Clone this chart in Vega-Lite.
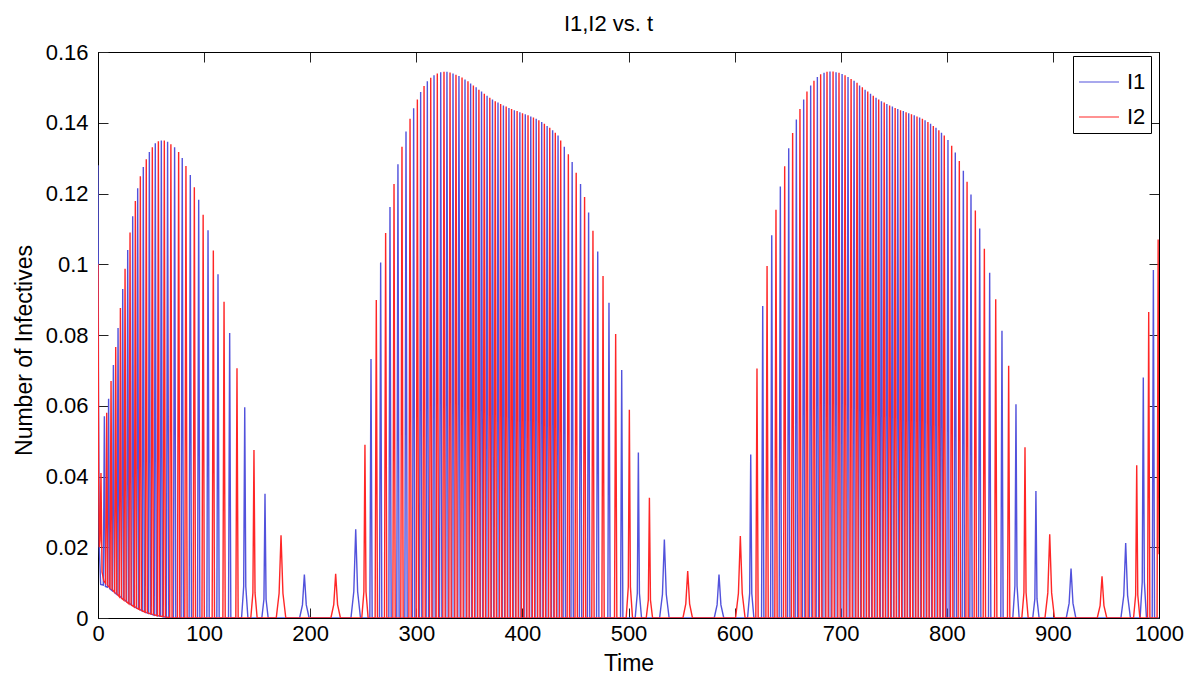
{
"$schema": "https://vega.github.io/schema/vega-lite/v6.json",
"width": 1061, "height": 566,
"autosize": "none",
"padding": {"left": 98, "top": 52, "right": 42, "bottom": 62},
"background": "white",
"config": {
  "font": "Liberation Sans",
  "view": {"stroke": "black", "strokeWidth": 1},
  "axis": {"grid": false, "domainColor": "black", "tickColor": "#222222", "labelColor": "black", "titleColor": "black", "labelFontSize": 22, "titleFontSize": 23, "titleFontWeight": "normal", "tickSize": -10, "labelFlush": false, "labelOverlap": false}
},
"datasets": {
"i1": [
{"t":0,"v":0.128},{"t":0.5,"v":0.06},{"t":1.2,"v":0.02},{"t":2.5,"v":0.0095},{"t":5.0,"v":0.0093},{"t":6.0,"v":0.057},{"t":7.0,"v":0.0089},{"t":9.0,"v":0.0087},{"t":10.0,"v":0.062},{"t":11.0,"v":0.0083},{"t":13.5,"v":0.0077},{"t":14.5,"v":0.0715},{"t":15.5,"v":0.0073},{"t":17.9,"v":0.0066},{"t":18.9,"v":0.082},{"t":19.9,"v":0.0064},{"t":22.3,"v":0.0056},{"t":23.3,"v":0.093},{"t":24.3,"v":0.0053},{"t":27.0,"v":0.0046},{"t":28.0,"v":0.104},{"t":29.0,"v":0.0043},{"t":31.7,"v":0.0036},{"t":32.7,"v":0.1136},{"t":33.7,"v":0.0034},{"t":36.4,"v":0.0028},{"t":37.4,"v":0.1215},{"t":38.4,"v":0.0026},{"t":41.7,"v":0.002},{"t":42.7,"v":0.1275},{"t":43.7,"v":0.0018},{"t":47.4,"v":0.0013},{"t":48.4,"v":0.1317},{"t":49.4,"v":0.0012},{"t":53.0,"v":0.0008},{"t":54.0,"v":0.1342},{"t":55.0,"v":0.0007},{"t":58.7,"v":0.0005},{"t":59.7,"v":0.135},{"t":60.7,"v":0.0004},{"t":64.5,"v":0.0002},{"t":65.6,"v":0.1346},{"t":66.7,"v":0.0001},
{"t":71.1,"v":0},{"t":72.2,"v":0.1331},{"t":73.3,"v":0},
{"t":78.3,"v":0},{"t":79.4,"v":0.13},{"t":80.5,"v":0},
{"t":85.9,"v":0},{"t":87.0,"v":0.1252},{"t":88.1,"v":0},
{"t":93.8,"v":0},{"t":94.9,"v":0.1182},{"t":96.0,"v":0},
{"t":102.6,"v":0},{"t":103.7,"v":0.1096},{"t":104.8,"v":0},
{"t":112.0,"v":0},{"t":113.1,"v":0.0972},{"t":114.2,"v":0},
{"t":123.0,"v":0},{"t":124.1,"v":0.0806},{"t":125.2,"v":0},
{"t":135.3,"v":0},{"t":137.3,"v":0.0089},{"t":138.3,"v":0.0596},{"t":139.3,"v":0.0089},{"t":141.3,"v":0},
{"t":154.4,"v":0},{"t":156.4,"v":0.0053},{"t":157.4,"v":0.0351},{"t":158.4,"v":0.0053},{"t":160.4,"v":0},
{"t":190.0,"v":0},{"t":192.7,"v":0.0037},{"t":194.5,"v":0.0123},{"t":196.3,"v":0.0037},{"t":199.0,"v":0},
{"t":238.4,"v":0},{"t":241.1,"v":0.0075},{"t":242.9,"v":0.0251},{"t":244.7,"v":0.0075},{"t":247.4,"v":0},
{"t":256.2,"v":0},{"t":257.3,"v":0.0732},{"t":258.4,"v":0},
{"t":265.3,"v":0},{"t":266.4,"v":0.1005},{"t":267.5,"v":0},
{"t":274.1,"v":0},{"t":275.2,"v":0.1162},{"t":276.3,"v":0},
{"t":281.6,"v":0},{"t":282.7,"v":0.1283},{"t":283.8,"v":0},
{"t":289.2,"v":0},{"t":290.3,"v":0.1375},{"t":291.4,"v":0},
{"t":296.4,"v":0},{"t":297.5,"v":0.1441},{"t":298.6,"v":0},
{"t":303.0,"v":0},{"t":304.1,"v":0.1487},{"t":305.2,"v":0},
{"t":309.3,"v":0},{"t":310.4,"v":0.1517},{"t":311.5,"v":0},
{"t":315.6,"v":0},{"t":316.7,"v":0.1534},{"t":317.8,"v":0},
{"t":321.9,"v":0},{"t":323.0,"v":0.1543},{"t":324.1,"v":0},
{"t":327.8,"v":0},{"t":328.9,"v":0.1544},{"t":330.0,"v":0},
{"t":333.5,"v":0},{"t":334.6,"v":0.1539},{"t":335.7,"v":0},
{"t":339.1,"v":0},{"t":340.2,"v":0.1532},{"t":341.3,"v":0},
{"t":344.8,"v":0},{"t":345.9,"v":0.1522},{"t":347.0,"v":0},
{"t":350.1,"v":0},{"t":351.2,"v":0.1511},{"t":352.3,"v":0},
{"t":355.3,"v":0},{"t":356.4,"v":0.15},{"t":357.5,"v":0},
{"t":360.4,"v":0},{"t":361.5,"v":0.1488},{"t":362.6,"v":0},
{"t":365.6,"v":0},{"t":366.7,"v":0.1476},{"t":367.8,"v":0},
{"t":370.7,"v":0},{"t":371.8,"v":0.1466},{"t":372.9,"v":0},
{"t":375.9,"v":0},{"t":377.0,"v":0.1457},{"t":378.1,"v":0},
{"t":381.0,"v":0},{"t":382.1,"v":0.1449},{"t":383.2,"v":0},
{"t":386.2,"v":0},{"t":387.3,"v":0.1442},{"t":388.4,"v":0},
{"t":391.3,"v":0},{"t":392.4,"v":0.1435},{"t":393.5,"v":0},
{"t":396.5,"v":0},{"t":397.6,"v":0.143},{"t":398.7,"v":0},
{"t":401.6,"v":0},{"t":402.7,"v":0.1424},{"t":403.8,"v":0},
{"t":406.8,"v":0},{"t":407.9,"v":0.1418},{"t":409.0,"v":0},
{"t":411.9,"v":0},{"t":413.0,"v":0.1411},{"t":414.1,"v":0},
{"t":417.1,"v":0},{"t":418.2,"v":0.1402},{"t":419.3,"v":0},
{"t":422.2,"v":0},{"t":423.3,"v":0.1391},{"t":424.4,"v":0},
{"t":427.4,"v":0},{"t":428.5,"v":0.1379},{"t":429.6,"v":0},
{"t":432.5,"v":0},{"t":433.6,"v":0.1364},{"t":434.7,"v":0},
{"t":438.4,"v":0},{"t":439.5,"v":0.1332},{"t":440.6,"v":0},
{"t":445.8,"v":0},{"t":446.9,"v":0.1289},{"t":448.0,"v":0},
{"t":453.7,"v":0},{"t":454.8,"v":0.1227},{"t":455.9,"v":0},
{"t":461.3,"v":0},{"t":462.4,"v":0.1146},{"t":463.5,"v":0},
{"t":469.9,"v":0},{"t":471.0,"v":0.1036},{"t":472.1,"v":0},
{"t":480.5,"v":0},{"t":481.6,"v":0.0891},{"t":482.7,"v":0},
{"t":492.5,"v":0},{"t":493.6,"v":0.0701},{"t":494.7,"v":0},
{"t":506.3,"v":0},{"t":508.3,"v":0.007},{"t":509.3,"v":0.0468},{"t":510.3,"v":0.007},{"t":512.3,"v":0},
{"t":529.3,"v":0},{"t":532.0,"v":0.0067},{"t":533.8,"v":0.0222},{"t":535.6,"v":0.0067},{"t":538.3,"v":0},
{"t":580.8,"v":0},{"t":583.5,"v":0.0037},{"t":585.3,"v":0.0123},{"t":587.1,"v":0.0037},{"t":589.8,"v":0},
{"t":612.2,"v":0},{"t":614.2,"v":0.0069},{"t":615.2,"v":0.0462},{"t":616.2,"v":0.0069},{"t":618.2,"v":0},
{"t":625.4,"v":0},{"t":626.5,"v":0.0882},{"t":627.6,"v":0},
{"t":633.9,"v":0},{"t":635.0,"v":0.1082},{"t":636.1,"v":0},
{"t":642.0,"v":0},{"t":643.1,"v":0.122},{"t":644.2,"v":0},
{"t":649.9,"v":0},{"t":651.0,"v":0.1328},{"t":652.1,"v":0},
{"t":657.1,"v":0},{"t":658.2,"v":0.1409},{"t":659.3,"v":0},
{"t":664.0,"v":0},{"t":665.1,"v":0.1466},{"t":666.2,"v":0},
{"t":670.6,"v":0},{"t":671.7,"v":0.1505},{"t":672.8,"v":0},
{"t":676.9,"v":0},{"t":678.0,"v":0.1529},{"t":679.1,"v":0},
{"t":683.2,"v":0},{"t":684.3,"v":0.1541},{"t":685.4,"v":0},
{"t":688.8,"v":0},{"t":689.9,"v":0.1545},{"t":691.0,"v":0},
{"t":694.5,"v":0},{"t":695.6,"v":0.1543},{"t":696.7,"v":0},
{"t":700.2,"v":0},{"t":701.3,"v":0.1538},{"t":702.4,"v":0},
{"t":705.8,"v":0},{"t":706.9,"v":0.1529},{"t":708.0,"v":0},
{"t":711.5,"v":0},{"t":712.6,"v":0.1519},{"t":713.7,"v":0},
{"t":716.7,"v":0},{"t":717.8,"v":0.1505},{"t":718.9,"v":0},
{"t":721.9,"v":0},{"t":723.0,"v":0.1493},{"t":724.1,"v":0},
{"t":727.0,"v":0},{"t":728.1,"v":0.1482},{"t":729.2,"v":0},
{"t":732.2,"v":0},{"t":733.3,"v":0.1471},{"t":734.4,"v":0},
{"t":737.3,"v":0},{"t":738.4,"v":0.1461},{"t":739.5,"v":0},
{"t":742.4,"v":0},{"t":743.5,"v":0.1453},{"t":744.6,"v":0},
{"t":747.6,"v":0},{"t":748.7,"v":0.1446},{"t":749.8,"v":0},
{"t":752.7,"v":0},{"t":753.8,"v":0.1439},{"t":754.9,"v":0},
{"t":757.9,"v":0},{"t":759.0,"v":0.1433},{"t":760.1,"v":0},
{"t":763.0,"v":0},{"t":764.1,"v":0.1427},{"t":765.2,"v":0},
{"t":768.2,"v":0},{"t":769.3,"v":0.1421},{"t":770.4,"v":0},
{"t":773.3,"v":0},{"t":774.4,"v":0.1415},{"t":775.5,"v":0},
{"t":778.4,"v":0},{"t":779.5,"v":0.1407},{"t":780.6,"v":0},
{"t":783.6,"v":0},{"t":784.7,"v":0.1397},{"t":785.8,"v":0},
{"t":788.7,"v":0},{"t":789.8,"v":0.1386},{"t":790.9,"v":0},
{"t":793.9,"v":0},{"t":795.0,"v":0.1372},{"t":796.1,"v":0},
{"t":800.0,"v":0},{"t":801.1,"v":0.1351},{"t":802.2,"v":0},
{"t":806.9,"v":0},{"t":808.0,"v":0.1316},{"t":809.1,"v":0},
{"t":814.5,"v":0},{"t":815.6,"v":0.1264},{"t":816.7,"v":0},
{"t":821.7,"v":0},{"t":822.8,"v":0.1197},{"t":823.9,"v":0},
{"t":829.9,"v":0},{"t":831.0,"v":0.1101},{"t":832.1,"v":0},
{"t":839.3,"v":0},{"t":840.4,"v":0.0976},{"t":841.5,"v":0},
{"t":850.9,"v":0},{"t":852.0,"v":0.0812},{"t":853.1,"v":0},
{"t":862.2,"v":0},{"t":864.2,"v":0.0091},{"t":865.2,"v":0.0604},{"t":866.2,"v":0.0091},{"t":868.2,"v":0},
{"t":881.0,"v":0},{"t":883.0,"v":0.0054},{"t":884.0,"v":0.0359},{"t":885.0,"v":0.0054},{"t":887.0,"v":0},
{"t":912.6,"v":0},{"t":915.3,"v":0.0042},{"t":917.1,"v":0.014},{"t":918.9,"v":0.0042},{"t":921.6,"v":0},
{"t":964.1,"v":0},{"t":966.8,"v":0.0064},{"t":968.6,"v":0.0212},{"t":970.4,"v":0.0064},{"t":973.1,"v":0},
{"t":982.2,"v":0},{"t":984.2,"v":0.0102},{"t":985.2,"v":0.068},{"t":986.2,"v":0.0102},{"t":988.2,"v":0},
{"t":993.6,"v":0},{"t":994.7,"v":0.0984},{"t":995.8,"v":0},
{"t":1000,"v":0}
],
"i2": [
{"t":0,"v":0.1},{"t":0.6,"v":0.04},{"t":1.3,"v":0.02},{"t":2.0,"v":0.022},{"t":2.8,"v":0.041},{"t":3.8,"v":0.013},{"t":5.5,"v":0.0105},{"t":7.2,"v":0.0098},{"t":8.2,"v":0.058},{"t":9.2,"v":0.0092},{"t":11.3,"v":0.0085},{"t":12.3,"v":0.067},{"t":13.3,"v":0.0081},{"t":15.7,"v":0.0072},{"t":16.7,"v":0.0766},{"t":17.7,"v":0.0069},{"t":20.1,"v":0.006},{"t":21.1,"v":0.0876},{"t":22.1,"v":0.0057},{"t":24.5,"v":0.005},{"t":25.5,"v":0.0987},{"t":26.5,"v":0.0047},{"t":29.2,"v":0.004},{"t":30.2,"v":0.109},{"t":31.2,"v":0.0038},{"t":34.2,"v":0.0031},{"t":35.2,"v":0.1179},{"t":36.2,"v":0.0029},{"t":38.9,"v":0.0024},{"t":39.9,"v":0.1249},{"t":40.9,"v":0.0022},{"t":44.5,"v":0.0016},{"t":45.5,"v":0.1297},{"t":46.5,"v":0.0015},{"t":50.2,"v":0.0011},{"t":51.2,"v":0.1331},{"t":52.2,"v":0.001},{"t":55.9,"v":0.0006},{"t":56.9,"v":0.1348},{"t":57.9,"v":0.0006},{"t":61.5,"v":0.0004},{"t":62.5,"v":0.135},{"t":63.5,"v":0.0003},{"t":67.6,"v":0.0001},{"t":68.7,"v":0.1339},{"t":69.8,"v":0},
{"t":74.9,"v":0},{"t":76.0,"v":0.1317},{"t":77.1,"v":0},
{"t":81.8,"v":0},{"t":82.9,"v":0.1278},{"t":84.0,"v":0},
{"t":89.7,"v":0},{"t":90.8,"v":0.1218},{"t":91.9,"v":0},
{"t":98.0,"v":0},{"t":99.1,"v":0.114},{"t":100.2,"v":0},
{"t":107.6,"v":0},{"t":108.7,"v":0.1039},{"t":109.8,"v":0},
{"t":117.7,"v":0},{"t":118.8,"v":0.0894},{"t":119.9,"v":0},
{"t":129.9,"v":0},{"t":131.0,"v":0.0706},{"t":132.1,"v":0},
{"t":144.0,"v":0},{"t":146.0,"v":0.0071},{"t":147.0,"v":0.0475},{"t":148.0,"v":0.0071},{"t":150.0,"v":0},
{"t":168.0,"v":0},{"t":170.7,"v":0.007},{"t":172.5,"v":0.0234},{"t":174.3,"v":0.007},{"t":177.0,"v":0},
{"t":219.5,"v":0},{"t":222.2,"v":0.0038},{"t":224.0,"v":0.0125},{"t":225.8,"v":0.0038},{"t":228.5,"v":0},
{"t":248.6,"v":0},{"t":250.6,"v":0.0074},{"t":251.6,"v":0.049},{"t":252.6,"v":0.0074},{"t":254.6,"v":0},
{"t":261.2,"v":0},{"t":262.3,"v":0.0899},{"t":263.4,"v":0},
{"t":270.0,"v":0},{"t":271.1,"v":0.1088},{"t":272.2,"v":0},
{"t":277.9,"v":0},{"t":279.0,"v":0.1227},{"t":280.1,"v":0},
{"t":285.4,"v":0},{"t":286.5,"v":0.1332},{"t":287.6,"v":0},
{"t":293.0,"v":0},{"t":294.1,"v":0.1411},{"t":295.2,"v":0},
{"t":299.9,"v":0},{"t":301.0,"v":0.1466},{"t":302.1,"v":0},
{"t":306.2,"v":0},{"t":307.3,"v":0.1504},{"t":308.4,"v":0},
{"t":312.5,"v":0},{"t":313.6,"v":0.1527},{"t":314.7,"v":0},
{"t":318.7,"v":0},{"t":319.8,"v":0.1539},{"t":320.9,"v":0},
{"t":325.0,"v":0},{"t":326.1,"v":0.1544},{"t":327.2,"v":0},
{"t":330.7,"v":0},{"t":331.8,"v":0.1542},{"t":332.9,"v":0},
{"t":336.3,"v":0},{"t":337.4,"v":0.1536},{"t":338.5,"v":0},
{"t":342.0,"v":0},{"t":343.1,"v":0.1528},{"t":344.2,"v":0},
{"t":347.6,"v":0},{"t":348.7,"v":0.1517},{"t":349.8,"v":0},
{"t":352.7,"v":0},{"t":353.8,"v":0.1505},{"t":354.9,"v":0},
{"t":357.9,"v":0},{"t":359.0,"v":0.1493},{"t":360.1,"v":0},
{"t":363.0,"v":0},{"t":364.1,"v":0.1482},{"t":365.2,"v":0},
{"t":368.2,"v":0},{"t":369.3,"v":0.1471},{"t":370.4,"v":0},
{"t":373.3,"v":0},{"t":374.4,"v":0.1461},{"t":375.5,"v":0},
{"t":378.4,"v":0},{"t":379.5,"v":0.1453},{"t":380.6,"v":0},
{"t":383.6,"v":0},{"t":384.7,"v":0.1446},{"t":385.8,"v":0},
{"t":388.7,"v":0},{"t":389.8,"v":0.1439},{"t":390.9,"v":0},
{"t":393.9,"v":0},{"t":395.0,"v":0.1433},{"t":396.1,"v":0},
{"t":399.0,"v":0},{"t":400.1,"v":0.1427},{"t":401.2,"v":0},
{"t":404.2,"v":0},{"t":405.3,"v":0.1421},{"t":406.4,"v":0},
{"t":409.3,"v":0},{"t":410.4,"v":0.1415},{"t":411.5,"v":0},
{"t":414.4,"v":0},{"t":415.5,"v":0.1407},{"t":416.6,"v":0},
{"t":419.6,"v":0},{"t":420.7,"v":0.1397},{"t":421.8,"v":0},
{"t":424.7,"v":0},{"t":425.8,"v":0.1386},{"t":426.9,"v":0},
{"t":429.9,"v":0},{"t":431.0,"v":0.1372},{"t":432.1,"v":0},
{"t":435.0,"v":0},{"t":436.1,"v":0.135},{"t":437.2,"v":0},
{"t":442.2,"v":0},{"t":443.3,"v":0.1311},{"t":444.4,"v":0},
{"t":449.6,"v":0},{"t":450.7,"v":0.1259},{"t":451.8,"v":0},
{"t":457.5,"v":0},{"t":458.6,"v":0.119},{"t":459.7,"v":0},
{"t":465.4,"v":0},{"t":466.5,"v":0.1095},{"t":467.6,"v":0},
{"t":474.9,"v":0},{"t":476.0,"v":0.0967},{"t":477.1,"v":0},
{"t":486.8,"v":0},{"t":487.9,"v":0.0803},{"t":489.0,"v":0},
{"t":497.8,"v":0},{"t":499.8,"v":0.0088},{"t":500.8,"v":0.0589},{"t":501.8,"v":0.0088},{"t":503.8,"v":0},
{"t":516.7,"v":0},{"t":518.7,"v":0.0051},{"t":519.7,"v":0.034},{"t":520.7,"v":0.0051},{"t":522.7,"v":0},
{"t":551.3,"v":0},{"t":554.0,"v":0.004},{"t":555.8,"v":0.0133},{"t":557.6,"v":0.004},{"t":560.3,"v":0},
{"t":600.9,"v":0},{"t":603.6,"v":0.007},{"t":605.4,"v":0.0232},{"t":607.2,"v":0.007},{"t":609.9,"v":0},
{"t":620.0,"v":0},{"t":621.1,"v":0.0705},{"t":622.2,"v":0},
{"t":629.5,"v":0},{"t":630.6,"v":0.0995},{"t":631.7,"v":0},
{"t":637.9,"v":0},{"t":639.0,"v":0.1154},{"t":640.1,"v":0},
{"t":646.1,"v":0},{"t":647.2,"v":0.1277},{"t":648.3,"v":0},
{"t":653.6,"v":0},{"t":654.7,"v":0.1371},{"t":655.8,"v":0},
{"t":660.5,"v":0},{"t":661.6,"v":0.1439},{"t":662.7,"v":0},
{"t":667.1,"v":0},{"t":668.2,"v":0.1488},{"t":669.3,"v":0},
{"t":673.7,"v":0},{"t":674.8,"v":0.1519},{"t":675.9,"v":0},
{"t":680.0,"v":0},{"t":681.1,"v":0.1537},{"t":682.2,"v":0},
{"t":686.0,"v":0},{"t":687.1,"v":0.1544},{"t":688.2,"v":0},
{"t":691.7,"v":0},{"t":692.8,"v":0.1545},{"t":693.9,"v":0},
{"t":697.3,"v":0},{"t":698.4,"v":0.1541},{"t":699.5,"v":0},
{"t":703.0,"v":0},{"t":704.1,"v":0.1534},{"t":705.2,"v":0},
{"t":708.7,"v":0},{"t":709.8,"v":0.1524},{"t":710.9,"v":0},
{"t":714.3,"v":0},{"t":715.4,"v":0.1513},{"t":716.5,"v":0},
{"t":719.3,"v":0},{"t":720.4,"v":0.15},{"t":721.5,"v":0},
{"t":724.4,"v":0},{"t":725.5,"v":0.1488},{"t":726.6,"v":0},
{"t":729.6,"v":0},{"t":730.7,"v":0.1476},{"t":731.8,"v":0},
{"t":734.7,"v":0},{"t":735.8,"v":0.1466},{"t":736.9,"v":0},
{"t":739.9,"v":0},{"t":741.0,"v":0.1457},{"t":742.1,"v":0},
{"t":745.0,"v":0},{"t":746.1,"v":0.1449},{"t":747.2,"v":0},
{"t":750.2,"v":0},{"t":751.3,"v":0.1442},{"t":752.4,"v":0},
{"t":755.3,"v":0},{"t":756.4,"v":0.1435},{"t":757.5,"v":0},
{"t":760.5,"v":0},{"t":761.6,"v":0.143},{"t":762.7,"v":0},
{"t":765.6,"v":0},{"t":766.7,"v":0.1424},{"t":767.8,"v":0},
{"t":770.8,"v":0},{"t":771.9,"v":0.1418},{"t":773.0,"v":0},
{"t":775.9,"v":0},{"t":777.0,"v":0.1411},{"t":778.1,"v":0},
{"t":781.1,"v":0},{"t":782.2,"v":0.1402},{"t":783.3,"v":0},
{"t":786.2,"v":0},{"t":787.3,"v":0.1391},{"t":788.4,"v":0},
{"t":791.4,"v":0},{"t":792.5,"v":0.1379},{"t":793.6,"v":0},
{"t":796.5,"v":0},{"t":797.6,"v":0.1364},{"t":798.7,"v":0},
{"t":803.5,"v":0},{"t":804.6,"v":0.1335},{"t":805.7,"v":0},
{"t":810.7,"v":0},{"t":811.8,"v":0.1292},{"t":812.9,"v":0},
{"t":818.0,"v":0},{"t":819.1,"v":0.1233},{"t":820.2,"v":0},
{"t":825.8,"v":0},{"t":826.9,"v":0.1152},{"t":828.0,"v":0},
{"t":834.3,"v":0},{"t":835.4,"v":0.1044},{"t":836.5,"v":0},
{"t":845.0,"v":0},{"t":846.1,"v":0.0901},{"t":847.2,"v":0},
{"t":857.2,"v":0},{"t":858.3,"v":0.0713},{"t":859.4,"v":0},
{"t":870.7,"v":0},{"t":872.7,"v":0.0072},{"t":873.7,"v":0.0483},{"t":874.7,"v":0.0072},{"t":876.7,"v":0},
{"t":892.5,"v":0},{"t":895.2,"v":0.0071},{"t":897.0,"v":0.0237},{"t":898.8,"v":0.0071},{"t":901.5,"v":0},
{"t":941.8,"v":0},{"t":944.5,"v":0.0035},{"t":946.3,"v":0.0118},{"t":948.1,"v":0.0035},{"t":950.8,"v":0},
{"t":976.0,"v":0},{"t":978.0,"v":0.0065},{"t":979.0,"v":0.0432},{"t":980.0,"v":0.0065},{"t":982.0,"v":0},
{"t":989.2,"v":0},{"t":990.3,"v":0.0865},{"t":991.4,"v":0},
{"t":998.2,"v":0},{"t":999.2,"v":0.107},{"t":1000,"v":0.018}
]
},
"layer": [
  {
    "data": {"name": "i1"},
    "mark": {"type": "line", "strokeWidth": 1.4, "clip": true},
    "encoding": {
      "x": {"field": "t", "type": "quantitative", "sort": null,
            "scale": {"domain": [0, 1000], "nice": false, "zero": false},
            "axis": {"orient": "bottom", "values": [0,100,200,300,400,500,600,700,800,900,1000], "format": "d", "title": "Time", "labelPadding": 15, "titleY": 52, "titleBaseline": "alphabetic"}},
      "y": {"field": "v", "type": "quantitative",
            "scale": {"domain": [0, 0.16], "nice": false},
            "axis": {"orient": "left", "values": [0,0.02,0.04,0.06,0.08,0.1,0.12,0.14,0.16], "format": "~g", "title": "Number of Infectives", "labelPadding": 20, "titleX": -67, "titleY": 298, "titleBaseline": "alphabetic"}},
      "color": {"datum": "I1", "type": "nominal",
                "scale": {"domain": ["I1", "I2"], "range": ["#5252dc", "#ff2626"]},
                "legend": {"orient": "none", "legendX": 975, "legendY": 4, "title": null, "symbolType": "stroke", "symbolSize": 1600, "symbolStrokeWidth": 1.2, "labelFontSize": 22, "labelColor": "black", "strokeColor": "black", "fillColor": "white", "padding": 5, "rowPadding": 3, "labelOffset": 7}}
    }
  },
  {
    "data": {"name": "i2"},
    "mark": {"type": "line", "strokeWidth": 1.4, "clip": true},
    "encoding": {
      "x": {"field": "t", "type": "quantitative", "sort": null,
            "axis": {"orient": "top", "values": [0,100,200,300,400,500,600,700,800,900,1000], "labels": false, "title": "I1,I2 vs. t", "titleFontSize": 22, "titleX": 510, "titleY": -22, "titleBaseline": "alphabetic", "titleAlign": "center"}},
      "y": {"field": "v", "type": "quantitative",
            "axis": {"orient": "right", "values": [0,0.02,0.04,0.06,0.08,0.1,0.12,0.14,0.16], "labels": false, "title": null}},
      "color": {"datum": "I2", "type": "nominal",
                "legend": {"orient": "none", "legendX": 975, "legendY": 4, "title": null, "symbolType": "stroke", "symbolSize": 1600, "symbolStrokeWidth": 1.2, "labelFontSize": 22, "labelColor": "black", "strokeColor": "black", "fillColor": "white", "padding": 5, "rowPadding": 3, "labelOffset": 7}}
    }
  }
],
"resolve": {"axis": {"x": "independent", "y": "independent"}}
}
